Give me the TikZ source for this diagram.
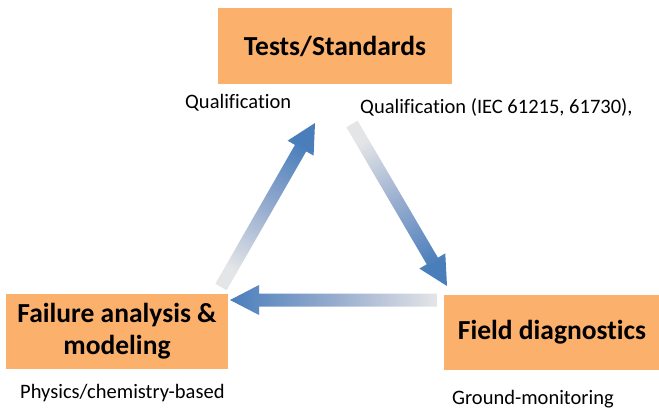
\documentclass[tikz,border=0pt]{standalone}
\usepackage{fontspec}
\setmainfont{Carlito}[Ligatures=NoCommon]
\usetikzlibrary{calc}
\definecolor{boxorange}{RGB}{251,176,108}
\definecolor{arrowblue}{RGB}{74,126,187}
\definecolor{arrowmid}{RGB}{150,172,206}
\definecolor{arrowgray}{RGB}{228,229,231}

% block arrow from tail #1 to head #2, gradient rotated by #3
\newcommand\blockarrow[3]{%
  \coordinate (#1base) at ($(#2)!29pt!(#1)$);
  \shade[arrowshade, shading angle=#3]
    ($(#1)!6.5pt!90:(#2)$) -- ($(#1base)!6.5pt!90:(#2)$) --
    ($(#1base)!15pt!90:(#2)$) -- (#2) --
    ($(#1base)!15pt!-90:(#2)$) -- ($(#1base)!6.5pt!-90:(#2)$) --
    ($(#1)!6.5pt!-90:(#2)$) -- cycle;}

\begin{document}
\begin{tikzpicture}[x=1pt,y=-1pt,
  box/.style={fill=boxorange, draw=none, inner sep=0pt, align=center,
    font=\fontsize{27.5}{32}\selectfont\bfseries},
  note/.style={anchor=west, inner sep=0pt,
    font=\fontsize{20.5}{24}\selectfont},
  arrowshade/.style={top color=arrowblue, bottom color=arrowgray,
    middle color=arrowmid},
]
\useasboundingbox (0,0) rectangle (659,410);

% the three stages
\node[box, minimum width=234, minimum height=76] (tests) at (335,46) {Tests/Standards};
\node[box, minimum width=222, minimum height=75] (failure) at (117,331.5)
  {Failure analysis \&\\modeling};
\node[box, minimum width=216, minimum height=75] (field) at (552,332.5) {Field diagnostics};

% notes under the stages
\node[note] (qleft) at (185,103) {Qualification};
\node[note] (qright) at (360,107) {Qualification (IEC 61215, 61730),};
\node[note] (phys) at (20,393) {Physics/chemistry-based};
\node[note] (ground) at (452,399) {Ground-monitoring};

% arrow ends
\coordinate (upt) at (221,287);  \coordinate (uph) at (315,123);
\coordinate (dnt) at (352,124);  \coordinate (dnh) at (447,286);
\coordinate (lft) at (437,300);  \coordinate (lfh) at (230,300);

% cycle of arrows
\blockarrow{upt}{uph}{-29.8}
\blockarrow{dnt}{dnh}{-150.4}
\blockarrow{lft}{lfh}{90}
\end{tikzpicture}
\end{document}
